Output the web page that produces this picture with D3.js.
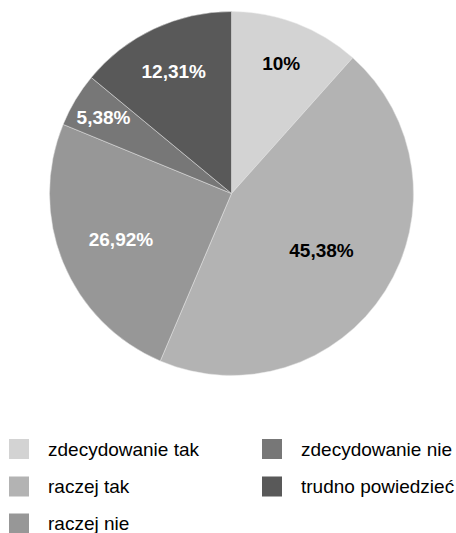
<!DOCTYPE html>
<html>
<head>
<meta charset="utf-8">
<script src="https://cdn.jsdelivr.net/npm/d3@7"></script>
<style>
  body { margin: 0; background: #fff; }
  svg { display: block; }
</style>
</head>
<body>
<div id="chart"></div>
<script>
'use strict';

// data - slice shares as drawn in the picture, labels as printed on it
var categories = ['zdecydowanie tak', 'raczej tak', 'raczej nie', 'zdecydowanie nie', 'trudno powiedzieć'];
var values     = [11.6, 44.8, 24.8, 4.8, 14.0];
var labels     = ['10%', '45,38%', '26,92%', '5,38%', '12,31%'];
var colors     = ['#d3d3d3', '#b3b3b3', '#979797', '#777777', '#595959'];
var labelFill  = ['#000', '#000', '#fff', '#fff', '#fff'];

//configuration
var config = {};
config.width   = 456;
config.height  = 533;
config.cx      = 231.5;
config.cy      = 193.5;
config.radius  = 182;
config.font    = '"Liberation Sans", Arial, sans-serif';

var svg = d3.select('#chart')
    .append('svg')
    .attr('width', config.width)
    .attr('height', config.height);

var rows = categories.map(function(c, i){
    return { name: c, value: values[i], label: labels[i], color: colors[i], text: labelFill[i] };
});

var pie = d3.pie()
    .sort(null)
    .value(function(d){ return d.value; });

var arc = d3.arc()
    .innerRadius(0)
    .outerRadius(config.radius);

var g = svg.append('g')
    .attr('transform', 'translate(' + config.cx + ',' + config.cy + ')');

var slices = pie(rows);

g.selectAll('path')
    .data(slices)
    .enter()
        .append('path')
        .attr('d', arc)
        .attr('fill', function(d){ return d.data.color; })
        .attr('stroke', '#e6e6e6')
        .attr('stroke-width', 0.5);

//labels - bigger slices get their label pulled in toward the centre
var labelRadius = d3.scaleLinear()
    .domain([5, 25, 45])
    .range([0.82, 0.655, 0.585])
    .clamp(true);

g.selectAll('text.pct')
    .data(slices)
    .enter()
        .append('text')
        .attr('class', 'pct')
        .attr('transform', function(d){
            var r = config.radius * labelRadius(d.data.value);
            var a = (d.startAngle + d.endAngle) / 2;
            return 'translate(' + (Math.sin(a) * r) + ',' + (-Math.cos(a) * r) + ')';
        })
        .attr('text-anchor', 'middle')
        .attr('dy', '0.36em')
        .style('font-family', config.font)
        .style('font-size', '19px')
        .style('font-weight', 'bold')
        .attr('fill', function(d){ return d.data.text; })
        .text(function(d){ return d.data.label; });

//legend
var legend = svg.append('g').attr('class', 'legend');
var colX = [9, 262];
var rowY = [439, 476.5, 513.5];

var items = legend.selectAll('g')
    .data(rows)
    .enter()
        .append('g')
        .attr('transform', function(d, i){
            var col = i < 3 ? 0 : 1;
            var row = i < 3 ? i : i - 3;
            return 'translate(' + colX[col] + ',' + rowY[row] + ')';
        });

items.append('rect')
    .attr('width', 20)
    .attr('height', 20)
    .attr('fill', function(d){ return d.color; });

items.append('text')
    .attr('x', 39)
    .attr('y', 10)
    .attr('dy', '0.36em')
    .style('font-family', config.font)
    .style('font-size', '19px')
    .attr('fill', '#000')
    .text(function(d){ return d.name; });
</script>
</body>
</html>
